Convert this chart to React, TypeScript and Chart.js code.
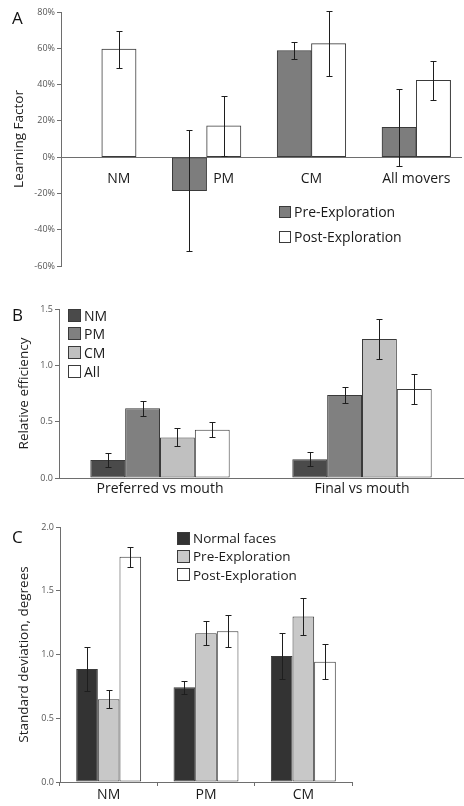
import React, { useEffect, useRef } from "react";
import { Chart, registerables } from "chart.js";

Chart.register(...registerables);

const FONT = "'Open Sans', sans-serif";

// ---------- Panel A ----------
const aCategories = ["NM", "PM", "CM", "All movers"];
const aLabelUnderPost = [true, true, false, false];
const aSeries = ["Pre-Exploration", "Post-Exploration"];
const aPre = [null, -18.5, 58.8, 16.5];
const aPreErr = [null, 33.5, 4.9, 21.2];
const aPost = [59.5, 17.3, 62.6, 42.4];
const aPostErr = [10.1, 16.5, 17.8, 10.8];
const aTicks = [-60, -40, -20, 0, 20, 40, 60, 80];

// ---------- Panel B ----------
const bCategories = ["Preferred vs mouth", "Final vs mouth"];
const bSeries = ["NM", "PM", "CM", "All"];
const bNM = [0.16, 0.167];
const bNMErr = [0.062, 0.062];
const bPM = [0.618, 0.737];
const bPMErr = [0.066, 0.067];
const bCM = [0.36, 1.233];
const bCMErr = [0.08, 0.18];
const bAll = [0.428, 0.79];
const bAllErr = [0.065, 0.13];
const bTicks = [0, 0.5, 1.0, 1.5];

// ---------- Panel C ----------
const cCategories = ["NM", "PM", "CM"];
const cSeries = ["Normal faces", "Pre-Exploration", "Post-Exploration"];
const cNormal = [0.887, 0.743, 0.989];
const cNormalErr = [0.175, 0.05, 0.18];
const cPre = [0.649, 1.167, 1.298];
const cPreErr = [0.07, 0.093, 0.144];
const cPost = [1.766, 1.183, 0.944];
const cPostErr = [0.08, 0.125, 0.135];
const cTicks = [0, 0.5, 1.0, 1.5, 2.0];

const AXIS = "#6e6e6e";
const EDGE = "#3a3a3a";

const errorBarPlugin = {
  id: "errorBars",
  afterDatasetsDraw(chart: any) {
    const ctx = chart.ctx;
    const yScale = chart.scales.y;
    ctx.save();
    ctx.strokeStyle = "#1e1e1e";
    ctx.lineWidth = 1;
    chart.data.datasets.forEach((ds: any, i: number) => {
      const errs = ds.errors;
      if (!errs) return;
      const meta = chart.getDatasetMeta(i);
      meta.data.forEach((bar: any, j: number) => {
        const raw = ds.data[j];
        const v = raw !== null && typeof raw === "object" ? raw.y : raw;
        const e = errs[j];
        if (v == null || e == null) return;
        const x = Math.round(bar.x) + 0.5;
        const yt = Math.round(yScale.getPixelForValue(v + e)) + 0.5;
        const yb = Math.round(yScale.getPixelForValue(v - e)) + 0.5;
        ctx.beginPath();
        ctx.moveTo(x, yt);
        ctx.lineTo(x, yb);
        ctx.moveTo(x - 3, yt);
        ctx.lineTo(x + 3, yt);
        ctx.moveTo(x - 3, yb);
        ctx.lineTo(x + 3, yb);
        ctx.stroke();
      });
    });
    ctx.restore();
  },
};

const barStyle = (color: string) => ({
  backgroundColor: color,
  borderColor: EDGE,
  borderWidth: 1,
  borderSkipped: false,
  barPercentage: 1,
});

function yAxis(opts: any) {
  return {
    type: "linear",
    min: opts.min,
    max: opts.max,
    afterBuildTicks: (s: any) => {
      s.ticks = opts.ticks.map((v: number) => ({ value: v }));
    },
    afterFit: (s: any) => {
      s.width = opts.width;
    },
    ticks: {
      font: { family: FONT, size: 9 },
      color: "#555",
      padding: 2,
      callback: opts.fmt,
    },
    grid: { drawOnChartArea: false, drawTicks: true, tickLength: 4, color: AXIS },
    border: { display: true, color: AXIS },
    title: {
      display: true,
      text: opts.title,
      font: { family: FONT, size: 13.5 },
      color: "#222",
      padding: { top: opts.titlePad, bottom: 0 },
    },
  };
}

function makeConfigA() {
  const groupFrac = 0.65;
  return {
    type: "bar",
    data: {
      datasets: [
        {
          label: aSeries[0],
          data: aPre.map((v, i) => ({ x: i, y: v })),
          errors: aPreErr,
          barThickness: 34.3,
          ...barStyle("#7d7d7d"),
        },
        {
          label: aSeries[1],
          data: aPost.map((v, i) => ({ x: i, y: v })),
          errors: aPostErr,
          barThickness: 34.3,
          ...barStyle("#ffffff"),
        },
      ],
    },
    options: {
      responsive: false,
      animation: false,
      layout: { padding: { top: 12, right: 1, left: 0, bottom: 14 } },
      plugins: { legend: { display: false }, tooltip: { enabled: false } },
      scales: {
        x: {
          type: "linear",
          position: { y: 0 },
          offset: false,
          min: -0.389,
          max: 3.427,
          afterBuildTicks: (s: any) => {
            s.ticks = aCategories.map((_, i) => ({
              value: i + (aLabelUnderPost[i] ? groupFrac / 4 : 0),
            }));
          },
          ticks: {
            font: { family: FONT, size: 14 },
            color: "#1a1a1a",
            padding: 13.5,
            maxRotation: 0,
            autoSkip: false,
            callback: (_v: any, idx: number) => aCategories[idx],
          },
          grid: { display: false, drawTicks: false },
          border: { display: true, color: AXIS },
        },
        y: yAxis({
          min: -60,
          max: 80,
          ticks: aTicks,
          width: 61,
          fmt: (v: number) => v + "%",
          title: "Learning Factor",
          titlePad: 11,
        }),
      },
    },
    plugins: [errorBarPlugin],
  };
}

function makeConfigB() {
  const cp = 0.69;
  const cols = ["#4a4a4a", "#808080", "#c0c0c0", "#ffffff"];
  const vals = [bNM, bPM, bCM, bAll];
  const errs = [bNMErr, bPMErr, bCMErr, bAllErr];
  return {
    type: "bar",
    data: {
      labels: bCategories,
      datasets: bSeries.map((name, i) => ({
        label: name,
        data: vals[i],
        errors: errs[i],
        categoryPercentage: cp,
        ...barStyle(cols[i]),
      })),
    },
    options: {
      responsive: false,
      animation: false,
      layout: { padding: { top: 19, right: 1, left: 0, bottom: 0 } },
      plugins: { legend: { display: false }, tooltip: { enabled: false } },
      scales: {
        x: {
          type: "category",
          afterFit: (s: any) => {
            s.height = 24;
          },
          ticks: {
            font: { family: FONT, size: 14 },
            color: "#1a1a1a",
            padding: 3,
            maxRotation: 0,
          },
          grid: { display: false, drawTicks: false },
          border: { display: true, color: AXIS },
        },
        y: yAxis({
          min: 0,
          max: 1.5,
          ticks: bTicks,
          width: 59,
          fmt: (v: number) => v.toFixed(1),
          title: "Relative efficiency",
          titlePad: 16,
        }),
      },
    },
    plugins: [errorBarPlugin],
  };
}

function makeConfigC() {
  const cp = 0.667;
  const cols = ["#333333", "#c8c8c8", "#ffffff"];
  const vals = [cNormal, cPre, cPost];
  const errs = [cNormalErr, cPreErr, cPostErr];
  return {
    type: "bar",
    data: {
      labels: cCategories,
      datasets: cSeries.map((name, i) => ({
        label: name,
        data: vals[i],
        errors: errs[i],
        categoryPercentage: cp,
        ...barStyle(cols[i]),
      })),
    },
    options: {
      responsive: false,
      animation: false,
      layout: { padding: { top: 17, right: 112, left: 0, bottom: 0 } },
      plugins: { legend: { display: false }, tooltip: { enabled: false } },
      scales: {
        x: {
          type: "category",
          afterFit: (s: any) => {
            s.height = 24;
          },
          ticks: {
            font: { family: FONT, size: 14 },
            color: "#1a1a1a",
            padding: 1,
            maxRotation: 0,
          },
          grid: { drawOnChartArea: false, drawTicks: true, tickLength: 4, color: AXIS, offset: true },
          border: { display: true, color: AXIS },
        },
        y: yAxis({
          min: 0,
          max: 2,
          ticks: cTicks,
          width: 60,
          fmt: (v: number) => v.toFixed(1),
          title: "Standard deviation, degrees",
          titlePad: 16,
        }),
      },
    },
    plugins: [errorBarPlugin],
  };
}

function ChartCanvas({ top, height, make }: { top: number; height: number; make: () => any }) {
  const ref = useRef<HTMLCanvasElement | null>(null);
  useEffect(() => {
    if (!ref.current) return;
    const chart = new Chart(ref.current, make());
    return () => chart.destroy();
  }, []);
  return (
    <canvas
      ref={ref}
      width={464}
      height={height}
      style={{ position: "absolute", left: 0, top, width: 464, height }}
    />
  );
}

function Legend({
  left,
  top,
  rowH,
  box,
  size,
  names,
  colors,
}: {
  left: number;
  top: number;
  rowH: number;
  box: number;
  size: number;
  names: string[];
  colors: string[];
}) {
  return (
    <div style={{ position: "absolute", left, top, fontFamily: FONT, fontSize: size, color: "#1a1a1a" }}>
      {names.map((n, i) => (
        <div key={n} style={{ display: "flex", alignItems: "center", height: rowH, whiteSpace: "nowrap" }}>
          <span
            style={{
              display: "inline-block",
              width: box,
              height: box,
              boxSizing: "border-box",
              border: "1px solid " + EDGE,
              background: colors[i],
              marginRight: 3,
            }}
          />
          <span>{n}</span>
        </div>
      ))}
    </div>
  );
}

function Letter({ left, top, text }: { left: number; top: number; text: string }) {
  return (
    <div
      style={{
        position: "absolute",
        left,
        top,
        fontFamily: FONT,
        fontSize: 17,
        lineHeight: "17px",
        color: "#111",
      }}
    >
      {text}
    </div>
  );
}

export default function App() {
  return (
    <div style={{ position: "absolute", left: 0, top: 0, width: 464, height: 806, background: "#fff", overflow: "hidden" }}>
      <ChartCanvas top={0} height={280} make={makeConfigA} />
      <ChartCanvas top={290} height={212} make={makeConfigB} />
      <ChartCanvas top={510} height={296} make={makeConfigC} />
      <Letter left={12} top={9} text="A" />
      <Letter left={12} top={306} text="B" />
      <Letter left={12} top={528} text="C" />
      <Legend left={279} top={199} rowH={25} box={12} size={14} names={aSeries} colors={["#7d7d7d", "#ffffff"]} />
      <Legend
        left={68}
        top={306}
        rowH={18.6}
        box={13}
        size={14}
        names={bSeries}
        colors={["#4a4a4a", "#808080", "#c0c0c0", "#ffffff"]}
      />
      <Legend
        left={177}
        top={529}
        rowH={18.3}
        box={13}
        size={13.5}
        names={cSeries}
        colors={["#333333", "#c8c8c8", "#ffffff"]}
      />
    </div>
  );
}
